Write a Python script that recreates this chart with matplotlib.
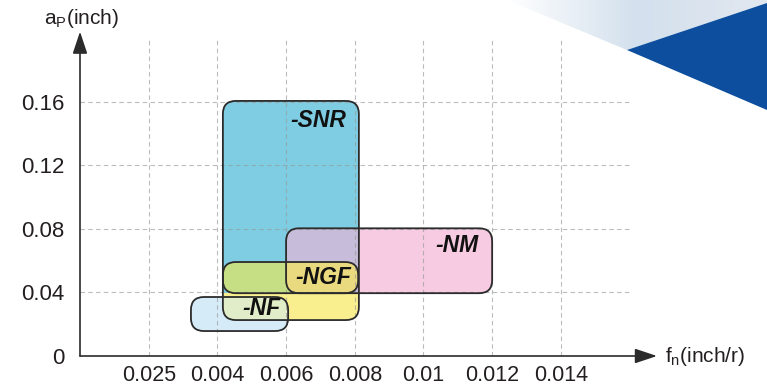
import matplotlib.pyplot as plt
from matplotlib.patches import FancyBboxPatch, Rectangle, Polygon
from matplotlib.colors import LinearSegmentedColormap
import numpy as np

plt.rcParams['font.family'] = 'Liberation Sans'
plt.rcParams['mathtext.fontset'] = 'custom'
plt.rcParams['mathtext.rm'] = 'Liberation Sans'
plt.rcParams['mathtext.it'] = 'Liberation Sans:italic'

# application windows per chip breaker: feed fn (inch/r) vs depth of cut ap (inch)
tools = ["-SNR", "-NM", "-NGF", "-NF"]
fn_lo = [0.00416, 0.0060, 0.00416, 0.00323]
fn_hi = [0.00812, 0.0120, 0.00810, 0.00606]
ap_lo = [0.0226, 0.0395, 0.0395, 0.0157]
ap_hi = [0.1604, 0.0803, 0.0591, 0.0371]
label_fn = [0.00693, 0.01098, 0.00707, 0.00527]
label_ap = [0.1484, 0.0694, 0.0495, 0.0296]

x_ticks = [0.002, 0.004, 0.006, 0.008, 0.010, 0.012, 0.014]
x_labels = ["0.025", "0.004", "0.006", "0.008", "0.01", "0.012", "0.014"]
y_ticks = [0, 0.04, 0.08, 0.12, 0.16]
y_labels = ["0", "0.04", "0.08", "0.12", "0.16"]

SNR, NM, NGF, NF = 0, 1, 2, 3
ink = '#2b2b2b'

W, H = 767, 389
fig = plt.figure(figsize=(W / 100, H / 100), dpi=100)

# corner banner
bg = fig.add_axes([0, 0, 1, 1], zorder=0)
bg.axis('off')
light = Polygon([(507, 0), (627, 50), (767, 3), (767, 0)], closed=True,
                fc='none', ec='none')
bg.add_patch(light)
cmap = LinearSegmentedColormap.from_list('banner', ['#ffffff', '#d3e0ed', '#e2e8f0'])
im = bg.imshow(np.linspace(0, 1, 256)[None, :], extent=(507, 767, 50, 0),
               cmap=cmap, aspect='auto', interpolation='bilinear')
im.set_clip_path(light)
bg.add_patch(Polygon([(627, 50), (767, 3), (767, 110)], closed=True,
                     fc='#0d4f9e', ec='none'))
bg.set_xlim(0, W)
bg.set_ylim(H, 0)

# main axes
xmax, ymax = 0.0168, 0.204
ax_w, ax_h = 577.0, 324.4
ax = fig.add_axes([80 / W, 33 / H, ax_w / W, ax_h / H], zorder=1)
ax.patch.set_alpha(0)
ax.set_xlim(0, xmax)
ax.set_ylim(0, ymax)

# keep the corner rounding circular in pixels
asp = (ymax / ax_h) / (xmax / ax_w)
rad = 13 * xmax / ax_w


def box(i, **kw):
    return FancyBboxPatch((fn_lo[i], ap_lo[i]), fn_hi[i] - fn_lo[i], ap_hi[i] - ap_lo[i],
                          boxstyle=f"round,pad=0,rounding_size={rad}",
                          mutation_aspect=asp, **kw)


def clipped(i, j, color, z):
    p = box(i, fc=color, ec='none', zorder=z)
    ax.add_patch(p)
    p.set_clip_path(box(j, transform=ax.transData))


# fills, with overlaps shaded separately
ax.add_patch(box(SNR, fc='#faef8e', ec='none', zorder=2))
blue = Rectangle((fn_lo[SNR], ap_lo[NGF]), fn_hi[SNR] - fn_lo[SNR], ap_hi[SNR] - ap_lo[NGF],
                 fc='#7fcde3', ec='none', zorder=2.1)
ax.add_patch(blue)
blue.set_clip_path(box(SNR, transform=ax.transData))
ax.add_patch(box(NM, fc='#f7cbe1', ec='none', zorder=2.2))
clipped(NM, SNR, '#c7bcd9', 2.3)
ax.add_patch(box(NGF, fc='#c6de84', ec='none', zorder=2.4))
clipped(NGF, NM, '#e9da80', 2.5)
ax.add_patch(box(NF, fc='#d6ebf8', ec='none', zorder=2.6))
clipped(NF, SNR, '#e0edc8', 2.7)

# dashed grid
ax.vlines(x_ticks, 0, 0.2, colors='#999999', linestyles=(0, (4, 3)), lw=0.8,
          alpha=0.65, zorder=3)
ax.hlines(y_ticks[1:], 0, 0.016, colors='#999999', linestyles=(0, (4, 3)), lw=0.8,
          alpha=0.65, zorder=3)

# outlines and names
for i, name in enumerate(tools):
    ax.add_patch(box(i, fc='none', ec=ink, lw=1.3, zorder=4))
    ax.text(label_fn[i], label_ap[i], name, ha='center', va='center',
            fontsize=16.5, fontweight='bold', fontstyle='italic', color='#111111', zorder=5)

# axes with arrow heads
for spine in ax.spines.values():
    spine.set_visible(False)
arrow = dict(arrowstyle='-|>,head_length=0.9,head_width=0.3', mutation_scale=15,
             lw=1.2, color=ink, shrinkA=0, shrinkB=0)
ax.annotate('', xy=(1, 0), xytext=(0, 0), xycoords='axes fraction',
            arrowprops=arrow, annotation_clip=False)
ax.annotate('', xy=(0, 1), xytext=(0, 0), xycoords='axes fraction',
            arrowprops=arrow, annotation_clip=False)

ax.set_xticks(x_ticks)
ax.set_xticklabels(x_labels, fontsize=15.5)
ax.set_yticks(y_ticks)
ax.set_yticklabels(y_labels, fontsize=16)
ax.tick_params(axis='x', length=0, pad=6.5, colors='#231f20')
ax.tick_params(axis='y', length=0, pad=11.5, colors='#231f20')

fig.text(44 / W, 1 - 18 / H, r'a$_\mathrm{P}$(inch)', fontsize=15, va='center', color='#231f20')
fig.text(665 / W, 1 - 356 / H, r'f$_\mathrm{n}$(inch/r)', fontsize=15, va='center', color='#231f20')

fig.savefig('out.png', dpi=100)
